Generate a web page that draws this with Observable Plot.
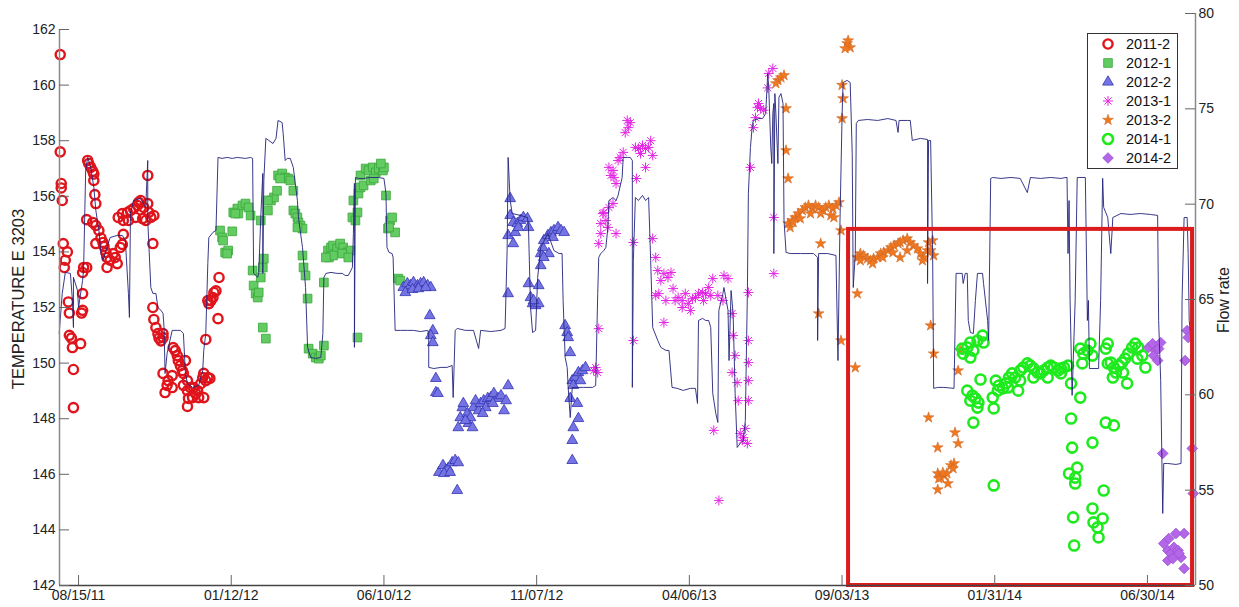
<!DOCTYPE html>
<html>
<head>
<meta charset="utf-8">
<script src="https://cdn.jsdelivr.net/npm/d3@7"></script>
<script src="https://cdn.jsdelivr.net/npm/@observablehq/plot@0.6"></script>
<style>
  body { margin: 0; background: #fff; }
  #chart { position: relative; width: 1239px; height: 607px; }
</style>
</head>
<body>
<div id="chart"></div>
<script>
// Days are counted from 15 Aug 2011; temperatures in units of E 3203, flow in flow-rate units.
const originDate = Date.UTC(2011, 7, 15);
const day = d => new Date(originDate + d * 864e5);

const xTickDates = ["2011-08-15", "2012-01-12", "2012-06-10", "2012-11-07", "2013-04-06", "2013-09-03", "2014-01-31", "2014-06-30"];
const tempTicks = [142, 144, 146, 148, 150, 152, 154, 156, 158, 160, 162];
const flowTicks = [50, 55, 60, 65, 70, 75, 80];
const seriesNames = ["2011-2", "2012-1", "2012-2", "2013-1", "2013-2", "2014-1", "2014-2"];

const s2011_2 = [[-18,161.1],[-18,157.6],[-17,156.46],[-17,156.3],[-16,155.85],[-15,154.3],[-11,154.0],[-13,153.7],[-14,153.44],[-10,152.2],[-9,151.8],[-9,151.0],[-7,150.9],[-6,150.56],[2,150.7],[-5,149.77],[-5,148.4],[4,152.5],[4,151.9],[3,151.8],[4,153.26],[5,153.44],[8,153.44],[9,157.29],[10,157.18],[12,157.04],[14,156.9],[15,156.8],[15,156.57],[16,156.06],[17,155.74],[8,155.16],[14,155.06],[17,154.95],[20,154.77],[17,154.3],[22,154.5],[24,154.34],[25,154.2],[27,153.98],[28,153.8],[28,153.44],[31,153.7],[34,153.94],[36,153.8],[38,153.58],[41,154.16],[43,154.27],[44,154.63],[39,155.24],[43,155.38],[44,155.13],[48,155.42],[51,155.49],[54,155.56],[58,155.67],[59,155.78],[61,155.85],[64,155.6],[68,155.74],[69,155.42],[71,155.24],[74,155.31],[49,155.13],[56,155.24],[63,155.2],[66,155.13],[68,156.75],[73,154.3],[73,152.0],[74,151.57],[76,151.28],[78,151.06],[79,150.9],[81,150.8],[83,151.06],[83,150.92],[83,149.63],[85,148.94],[87,149.2],[88,149.37],[92,149.12],[92,149.55],[93,150.56],[95,150.45],[97,150.27],[98,150.09],[100,149.91],[102,149.73],[103,149.63],[105,150.09],[107,149.37],[103,149.2],[107,149.01],[108,148.73],[110,149.12],[112,148.76],[113,149.12],[115,148.91],[117,149.01],[118,148.76],[120,149.26],[122,149.48],[123,149.63],[125,149.37],[127,149.48],[129,149.45],[107,148.44],[123,148.76],[125,150.85],[127,152.25],[128,152.14],[130,152.25],[132,152.36],[133,152.54],[135,152.6],[137,151.6],[138,153.08]];

const s2012_1 = [[139,154.77],[141,154.52],[142,154.41],[151,154.74],[144,153.98],[147,154.05],[146,153.94],[152,155.42],[156,155.56],[157,155.38],[161,155.67],[164,155.74],[167,155.6],[169,155.31],[154,155.38],[171,153.33],[172,152.79],[174,152.5],[176,152.36],[177,152.54],[181,153.44],[182,153.76],[179,153.08],[181,151.28],[184,150.88],[179,155.13],[186,155.49],[189,155.85],[192,155.96],[195,156.2],[186,155.85],[196,156.75],[200,156.82],[203,156.68],[206,156.64],[198,156.64],[208,156.57],[211,156.2],[211,155.49],[213,155.38],[215,155.24],[216,155.06],[218,154.95],[220,154.84],[215,154.88],[220,153.87],[221,153.44],[223,153.15],[225,152.32],[226,150.52],[230,150.34],[233,150.2],[236,150.16],[238,150.27],[241,150.63],[241,152.9],[245,154.05],[248,154.16],[250,154.23],[254,154.12],[257,154.3],[260,154.16],[264,153.98],[267,154.05],[246,153.8],[250,153.87],[259,153.94],[265,153.8],[243,153.8],[269,155.24],[270,155.85],[274,155.42],[275,156.1],[272,155.13],[277,156.32],[280,156.39],[277,156.75],[282,157.0],[285,156.93],[289,157.04],[292,156.86],[295,157.0],[299,156.93],[300,157.04],[297,157.18],[287,156.57],[290,156.64],[274,150.92],[302,156.03],[304,154.84],[306,155.13],[308,155.24],[311,154.7],[305,154.88],[314,153.04],[316,152.97]];

const s2012_2 = [[319,152.72],[323,152.86],[326,152.79],[329,152.9],[333,152.79],[336,152.86],[339,152.9],[343,152.79],[346,152.72],[321,152.54],[328,152.65],[334,152.68],[341,152.72],[345,151.71],[348,151.17],[346,150.99],[348,150.74],[351,149.45],[351,148.94],[353,148.91],[354,146.07],[358,146.32],[361,146.14],[363,146.21],[367,146.42],[370,146.5],[373,146.42],[359,146.03],[365,146.07],[372,145.42],[373,147.68],[375,148.04],[377,148.4],[378,148.55],[382,148.19],[383,147.83],[385,148.04],[388,148.4],[390,148.65],[393,148.29],[395,148.55],[398,148.65],[400,148.4],[402,148.73],[405,148.76],[408,148.91],[412,148.73],[415,148.83],[418,148.29],[420,148.65],[422,149.19],[380,147.94],[387,147.68],[397,148.19],[407,148.55],[424,155.92],[424,155.31],[427,155.06],[431,155.02],[434,155.13],[437,155.24],[441,155.2],[442,154.88],[422,154.59],[427,154.3],[429,154.7],[432,154.88],[422,152.5],[442,152.86],[452,152.79],[444,152.36],[446,152.14],[449,152.07],[452,152.14],[447,152.25],[454,153.51],[454,153.94],[456,154.16],[457,154.41],[461,154.59],[464,154.7],[467,154.77],[471,154.88],[474,154.77],[477,154.7],[462,153.94],[457,153.8],[466,154.52],[478,151.35],[480,151.1],[481,150.92],[483,150.38],[485,149.37],[488,149.48],[491,149.66],[495,149.73],[498,149.84],[486,149.2],[493,149.37],[483,148.73],[485,147.22],[486,147.68],[491,148.01],[490,148.55],[485,146.5]];

const s2013_1 = [[508,149.84],[506,149.73],[510,149.66],[511,151.24],[511,154.3],[513,154.66],[513,155.02],[515,155.38],[516,155.42],[518,155.13],[520,154.88],[521,155.6],[525,155.74],[528,154.66],[521,157.04],[525,156.93],[523,156.75],[526,156.68],[528,156.46],[530,157.29],[532,157.4],[535,157.58],[539,158.73],[542,158.65],[540,158.47],[537,158.29],[547,157.76],[550,157.72],[554,157.83],[557,157.72],[560,157.76],[562,158.0],[564,157.47],[552,157.54],[557,157.04],[548,156.64],[545,154.34],[545,150.81],[564,154.48],[567,153.8],[569,153.33],[572,152.97],[575,153.22],[579,153.08],[582,153.26],[570,152.5],[567,152.43],[577,152.25],[584,152.68],[575,151.46],[586,152.25],[589,152.36],[593,152.25],[596,152.5],[599,152.14],[603,152.32],[606,152.36],[609,152.5],[613,152.54],[616,152.5],[619,152.72],[623,153.04],[593,152.0],[601,151.89],[614,152.25],[621,152.43],[628,152.43],[634,153.15],[638,153.04],[633,152.25],[642,151.78],[643,150.99],[645,150.27],[642,149.66],[647,149.3],[648,148.65],[624,147.58],[629,145.06],[650,147.47],[653,147.32],[652,147.22],[655,147.65],[657,147.11],[658,149.37],[658,150.81],[658,150.02],[658,152.54],[660,157.04],[658,148.65],[663,158.47],[665,158.83],[667,159.2],[670,159.16],[668,159.34],[673,159.1],[678,160.42],[682,160.6],[677,159.9],[683,155.24],[683,153.22]];

const s2013_2 = [[687,160.17],[690,160.27],[693,160.35],[685,160.06],[695,159.16],[695,157.65],[697,156.64],[697,155.02],[701,155.13],[704,155.24],[707,155.38],[711,155.49],[714,155.6],[717,155.67],[721,155.56],[724,155.67],[727,155.6],[731,155.49],[734,155.6],[737,155.67],[741,155.56],[744,155.67],[747,155.78],[699,154.88],[709,155.2],[719,155.38],[729,155.38],[739,155.31],[702,155.06],[742,155.24],[729,154.3],[749,154.77],[727,151.78],[749,150.81],[755,161.5],[756,161.6],[758,161.35],[753,161.32],[750,160.0],[751,159.52],[750,158.8],[765,152.5],[763,149.84],[765,153.8],[768,153.94],[771,153.87],[775,153.76],[778,153.69],[781,153.76],[785,153.8],[788,153.94],[791,153.98],[795,154.05],[798,154.16],[801,154.23],[805,154.3],[807,154.34],[810,154.41],[814,154.48],[817,154.34],[820,154.23],[824,154.12],[827,153.94],[830,153.8],[807,153.8],[834,154.05],[835,154.34],[839,154.41],[840,153.87],[768,153.69],[780,153.58],[790,153.8],[800,153.98],[814,154.05],[829,153.69],[837,154.05],[837,151.35],[840,150.34],[866,150.45],[864,149.73],[835,148.04],[844,146.96],[861,147.5],[864,147.11],[857,146.32],[860,146.39],[859,146.21],[844,146.03],[847,145.88],[850,145.96],[853,146.03],[854,145.67],[844,145.45],[849,146.06],[845,145.85]];

const s2014_1 = [[869,150.34],[873,150.56],[876,150.74],[879,150.45],[883,150.81],[888,150.99],[889,150.74],[876,150.2],[868,150.52],[873,149.01],[878,148.83],[881,148.73],[884,148.58],[883,148.4],[879,147.86],[886,149.41],[876,148.65],[898,148.76],[899,148.37],[899,145.6],[901,149.37],[904,149.19],[908,149.09],[911,149.27],[914,149.48],[917,149.63],[920,149.48],[923,149.01],[925,149.73],[928,149.84],[932,149.99],[935,149.91],[938,149.81],[942,149.66],[945,149.63],[948,149.73],[952,149.84],[955,149.91],[958,149.84],[962,149.73],[965,149.63],[968,149.84],[972,149.91],[903,149.01],[913,149.12],[925,149.37],[938,149.48],[952,149.48],[965,149.81],[975,149.27],[984,148.76],[975,148.01],[976,146.96],[973,146.03],[981,146.24],[979,145.88],[979,145.67],[977,144.45],[978,143.44],[996,147.14],[996,144.77],[997,144.27],[1001,144.09],[1002,143.73],[1006,144.41],[1007,145.42],[1009,147.86],[1017,147.76],[984,150.52],[987,150.34],[991,150.45],[994,150.7],[986,149.99],[996,150.27],[1011,150.7],[1009,150.52],[1014,150.02],[1017,149.84],[1016,149.48],[1019,149.66],[1022,149.91],[1025,150.02],[1028,150.16],[1031,150.34],[1035,150.56],[1038,150.7],[1041,150.56],[1045,150.27],[1048,149.84],[1030,149.27],[1026,149.66],[1011,149.99],[1040,150.16]];

const s2014_2 = [[1051,150.56],[1055,150.7],[1058,150.45],[1061,150.52],[1063,150.74],[1056,150.27],[1060,150.09],[1089,151.17],[1090,150.92],[1087,150.09],[1094,146.93],[1095,145.31],[1065,146.75],[1066,143.51],[1070,143.26],[1073,143.15],[1076,143.37],[1080,143.26],[1083,143.01],[1086,143.87],[1070,142.9],[1075,142.97],[1078,143.87],[1071,143.69],[1086,142.61],[1081,143.15]];

// Flow-rate trace: [day, flow]
const flowRate = [[-19,63.22],[-16,65.32],[-13,66.42],[-8,66.37],[-6,64.95],[-5,63.53],[-5,66.16],[-1,65.47],[0,64.58],[4,66.0],[5,66.63],[7,71.77],[9,72.45],[12,71.92],[15,70.88],[17,69.67],[20,68.62],[22,67.41],[24,67.05],[28,67.73],[31,68.25],[38,68.36],[43,68.36],[46,68.1],[49,65.32],[50,64.06],[51,69.51],[54,70.19],[61,70.3],[66,69.83],[68,72.29],[68,69.15],[71,65.63],[73,65.32],[76,65.32],[78,64.58],[81,64.43],[83,64.27],[84,63.53],[85,61.12],[87,62.17],[92,63.38],[97,63.38],[100,63.38],[103,63.22],[105,61.12],[107,60.6],[112,60.39],[118,60.49],[122,61.28],[123,62.33],[125,63.22],[127,66.89],[128,68.25],[132,68.52],[135,68.62],[137,72.45],[141,72.4],[146,72.45],[151,72.4],[156,72.45],[164,72.4],[169,72.45],[171,72.4],[172,66.37],[176,66.16],[177,66.37],[179,69.3],[181,71.61],[181,66.37],[182,71.24],[184,73.45],[187,73.34],[191,73.18],[194,73.45],[196,74.39],[200,74.28],[201,73.71],[203,72.29],[205,72.4],[208,72.4],[211,71.92],[215,70.19],[216,69.3],[220,67.73],[223,65.63],[225,62.49],[228,61.96],[233,61.91],[238,61.96],[240,63.22],[241,66.16],[243,66.37],[248,66.42],[254,66.37],[259,66.37],[262,66.26],[265,66.26],[269,66.68],[270,68.46],[271,71.09],[271,62.49],[272,71.4],[275,71.35],[280,71.35],[287,71.4],[294,71.4],[300,71.35],[302,70.56],[303,67.73],[305,67.47],[308,67.41],[309,67.21],[311,63.38],[316,63.38],[323,63.38],[329,63.38],[336,63.32],[343,63.38],[344,63.22],[344,61.44],[349,61.38],[356,61.44],[362,61.44],[367,61.54],[368,59.86],[370,63.38],[372,63.48],[380,63.38],[388,63.38],[393,62.43],[395,63.38],[405,63.32],[415,63.38],[419,63.48],[421,67.57],[422,72.45],[424,70.19],[426,69.51],[434,69.41],[441,69.3],[442,68.78],[444,64.58],[446,63.27],[449,63.38],[451,66.16],[454,67.73],[461,68.46],[467,67.57],[472,67.41],[475,67.41],[476,64.95],[478,61.96],[480,61.44],[481,60.39],[483,58.81],[485,60.39],[490,60.39],[496,60.39],[505,60.39],[508,60.49],[510,65.32],[511,67.21],[513,67.41],[516,67.57],[518,67.73],[520,68.78],[521,70.19],[525,70.35],[528,70.19],[530,70.46],[534,71.4],[535,72.45],[539,72.45],[542,72.45],[544,72.29],[544,60.39],[545,67.05],[547,70.35],[550,70.19],[554,70.46],[557,70.19],[560,70.35],[562,67.05],[564,63.53],[569,62.85],[572,62.49],[577,62.33],[580,62.33],[583,60.39],[588,60.34],[594,60.23],[601,60.34],[606,60.34],[608,59.55],[609,63.9],[613,64.01],[616,63.9],[619,63.9],[621,63.53],[623,60.07],[626,59.02],[628,58.55],[629,64.43],[633,65.32],[634,65.63],[638,64.43],[639,61.8],[641,65.47],[643,64.27],[645,60.07],[647,57.24],[650,57.45],[653,57.61],[655,58.66],[657,65.32],[658,70.56],[660,72.97],[662,74.23],[663,74.39],[668,74.49],[672,74.49],[675,74.76],[677,76.85],[678,76.12],[680,72.97],[681,72.13],[682,74.76],[683,75.28],[683,67.41],[684,75.8],[685,74.76],[687,72.13],[688,75.6],[690,75.8],[692,75.28],[693,69.15],[695,67.47],[699,67.41],[709,67.41],[722,67.41],[726,67.21],[726,62.85],[727,67.41],[736,67.41],[744,67.31],[746,61.8],[748,69.15],[750,74.55],[751,76.38],[755,76.49],[758,76.38],[760,72.66],[761,65.63],[763,67.41],[764,74.23],[766,74.39],[775,74.44],[785,74.39],[795,74.49],[803,74.39],[805,73.76],[806,74.39],[814,74.39],[817,74.39],[819,73.34],[827,73.45],[834,73.39],[834,65.84],[835,73.34],[837,73.34],[839,67.41],[840,60.34],[844,60.39],[850,60.39],[860,60.34],[862,66.37],[864,66.37],[868,66.37],[869,65.84],[871,66.37],[873,66.37],[874,63.9],[876,63.27],[879,63.22],[881,64.95],[883,66.37],[888,66.37],[889,65.84],[893,63.9],[894,62.85],[896,71.35],[898,71.4],[906,71.35],[916,71.4],[925,71.35],[932,70.61],[935,71.4],[945,71.35],[955,71.4],[965,71.35],[970,71.4],[971,71.4],[972,67.41],[973,70.19],[974,64.95],[976,59.97],[979,64.95],[981,71.4],[989,71.4],[991,63.9],[992,64.95],[993,61.38],[1002,61.38],[1004,64.95],[1006,71.35],[1007,69.83],[1011,69.3],[1014,67.41],[1016,69.3],[1024,69.51],[1033,69.46],[1043,69.51],[1053,69.46],[1060,69.41],[1061,63.9],[1063,60.76],[1065,53.78],[1066,56.4],[1070,56.4],[1078,56.35],[1083,56.4],[1084,64.95],[1086,69.3],[1089,69.3],[1090,67.41],[1091,63.9],[1093,62.85]];

// Highlighted period (days) and temperature band
const highlightDays = [756.4, 1094.3];
const highlightTemp = [142, 154.81];

// ---- layout ----
const W = 1239, H = 607;
const mL = 59, mR = 44, mT = 13, mB = 22;
const dayMin = -18.7, dayMax = 1097.2;
const tempMin = 142, tempTop = 162.576;   // the temperature scale reaches just above 162 where flow tops out at 80
const flowMin = 50, flowMax = 80;
const toT = f => tempMin + (f - flowMin) * (tempTop - tempMin) / (flowMax - flowMin);
const fromT = t => flowMin + (t - tempMin) * (flowMax - flowMin) / (tempTop - tempMin);
const tickDays = 10 * (dayMax - dayMin) / (W - mL - mR);
const tickTemp = 10 * (tempTop - tempMin) / (H - mT - mB);

// Marker styles; the 2013-1 asterisk is an eight-armed plus + times pair
const styles = [
  {data: s2011_2, symbols: ["circle"],        r: 4.6, fill: "none",    stroke: "#e0141b", sw: 2.4},
  {data: s2012_1, symbols: ["square"],        r: 4.9, fill: "#62cc62", stroke: "#3aa63a", sw: 0.8},
  {data: s2012_2, symbols: ["triangle"],      r: 4.0, fill: "#7474e2", stroke: "#3535b5", sw: 0.8},
  {data: s2013_1, symbols: ["plus", "times"], r: 3.3, fill: "none",    stroke: "#e426e4", sw: 1.0},
  {data: s2013_2, symbols: ["star"],          r: 3.4, fill: "#f2781e", stroke: "#cc6a2a", sw: 0.6},
  {data: s2014_1, symbols: ["circle"],        r: 5.0, fill: "none",    stroke: "#1eea1e", sw: 2.6},
  {data: s2014_2, symbols: ["diamond2"],      r: 4.8, fill: "#b466e8", stroke: "#9a50d0", sw: 0.8}
];

const dotMarks = styles.flatMap(s => s.symbols.map(sym => Plot.dot(s.data, {
  x: d => day(d[0]), y: d => d[1],
  symbol: sym, r: s.r, fill: s.fill, stroke: s.stroke, strokeWidth: s.sw
})));

const xMin = day(dayMin), xMax = day(dayMax);

const plot = Plot.plot({
  width: W, height: H,
  marginLeft: mL, marginRight: mR, marginTop: mT, marginBottom: mB,
  style: {fontFamily: "'Liberation Sans', Arial, sans-serif", fontSize: "14px", color: "#222", background: "#fff"},
  x: {type: "utc", domain: [xMin, xMax]},
  y: {domain: [tempMin, tempTop]},
  marks: [
    ...dotMarks,
    Plot.line(flowRate, {x: d => day(d[0]), y: d => toT(d[1]), stroke: "#24247c", strokeWidth: 1, strokeOpacity: 0.9}),
    Plot.rect([0], {x1: () => day(highlightDays[0]), x2: () => day(highlightDays[1]), y1: () => highlightTemp[0], y2: () => highlightTemp[1], fill: "none", stroke: "#dc1c1c", strokeWidth: 4}),
    // axis lines
    Plot.ruleX([xMin], {y1: tempMin, y2: 162, stroke: "#8a8a8a", strokeWidth: 1.5}),
    Plot.ruleX([xMax], {y1: tempMin, y2: tempTop, stroke: "#8a8a8a", strokeWidth: 1.5}),
    Plot.ruleY([tempMin], {x1: xMin, x2: xMax, stroke: "#444", strokeWidth: 1.5}),
    // inward ticks
    Plot.ruleX(xTickDates, {x: d => new Date(d), y1: tempMin, y2: tempMin + tickTemp, stroke: "#666"}),
    Plot.ruleY(tempTicks, {y: d => d, x1: xMin, x2: day(dayMin + tickDays), stroke: "#666"}),
    Plot.ruleY(flowTicks, {y: d => toT(d), x1: day(dayMax - tickDays), x2: xMax, stroke: "#666"}),
    Plot.axisX(xTickDates.map(d => new Date(d)), {tickSize: 0, tickPadding: 5, tickFormat: d3.utcFormat("%m/%d/%y"), label: null}),
    Plot.axisY(tempTicks, {anchor: "left", tickSize: 0, tickPadding: 4, label: null}),
    Plot.axisY(flowTicks.map(toT), {anchor: "right", tickSize: 0, tickPadding: 3, tickFormat: t => String(Math.round(fromT(t))), label: null})
  ]
});

const svg = d3.select(plot);
const font = "'Liberation Sans', Arial, sans-serif";

svg.append("text")
  .attr("transform", "translate(18,299) rotate(-90)")
  .attr("text-anchor", "middle").attr("dy", "0.35em")
  .attr("font-family", font).attr("font-size", 16.5).attr("fill", "#222")
  .text("TEMPERATURE E 3203");

svg.append("text")
  .attr("transform", "translate(1223,300) rotate(-90)")
  .attr("text-anchor", "middle").attr("dy", "0.35em")
  .attr("font-family", font).attr("font-size", 16).attr("fill", "#222")
  .text("Flow rate");

// Legend box
const legend = svg.append("g").attr("text-anchor", "start");
legend.append("rect").attr("x", 1087.5).attr("y", 33.5).attr("width", 90).attr("height", 135)
  .attr("fill", "#fff").attr("stroke", "#333").attr("stroke-width", 1);
const symbolTypes = {circle: d3.symbolCircle, square: d3.symbolSquare, triangle: d3.symbolTriangle, plus: d3.symbolPlus, times: d3.symbolTimes, star: d3.symbolStar, diamond2: d3.symbolDiamond2};
seriesNames.forEach((name, i) => {
  const s = styles[i];
  const cy = 44 + i * 19;
  s.symbols.forEach(sym => {
    legend.append("path")
      .attr("d", d3.symbol(symbolTypes[sym], Math.PI * s.r * s.r)())
      .attr("transform", `translate(1108,${cy})`)
      .attr("fill", s.fill).attr("stroke", s.stroke).attr("stroke-width", s.sw);
  });
  legend.append("text")
    .attr("x", 1126).attr("y", cy).attr("dy", "0.35em")
    .attr("text-anchor", "start")
    .attr("font-family", font).attr("font-size", 14.5).attr("fill", "#111")
    .text(name);
});

document.getElementById("chart").append(plot);
</script>
</body>
</html>
